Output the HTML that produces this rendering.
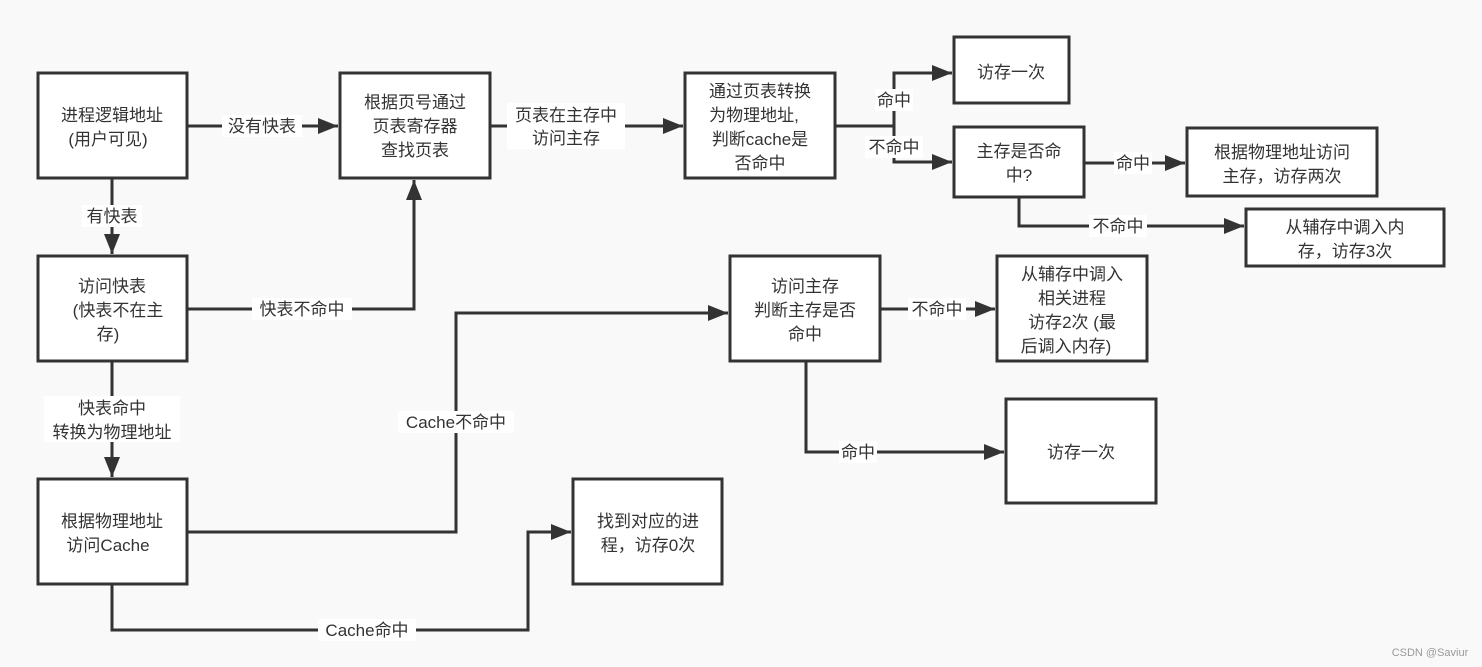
<!DOCTYPE html>
<html><head><meta charset="utf-8"><style>
html,body{margin:0;padding:0;background:#f9f9f9;}
svg{display:block;}
text{font-family:"Liberation Sans","Noto Sans CJK SC",sans-serif;font-size:17px;fill:#333;text-anchor:middle;}
.b{fill:#fff;stroke:#333;stroke-width:3;}
.l{fill:none;stroke:#333;stroke-width:3;}
.lb{fill:#fff;stroke:none;}
</style></head><body>
<svg width="1482" height="667" viewBox="0 0 1482 667">
<defs><marker id="a" markerWidth="10" markerHeight="10" refX="9" refY="5" orient="auto" markerUnits="userSpaceOnUse"><path d="M0,0 L20,5 L0,10z" fill="#333" transform="scale(0.5,1)"/></marker>
<marker id="m" markerWidth="20" markerHeight="16" refX="20" refY="8" orient="auto" markerUnits="userSpaceOnUse"><path d="M0,0 L20,8 L0,16z" fill="#333"/></marker></defs>
<rect width="1482" height="667" fill="#f9f9f9"/>
<!-- connectors -->
<path class="l" d="M187,126 H338" marker-end="url(#m)"/>
<path class="l" d="M490,126 H683" marker-end="url(#m)"/>
<path class="l" d="M835,126 H894 V73 H952" marker-end="url(#m)"/>
<path class="l" d="M894,126 V162 H952" marker-end="url(#m)"/>
<path class="l" d="M1084,163 H1185" marker-end="url(#m)"/>
<path class="l" d="M1019,197 V226 H1244" marker-end="url(#m)"/>
<path class="l" d="M112,178 V254" marker-end="url(#m)"/>
<path class="l" d="M187,309 H414 V180" marker-end="url(#m)"/>
<path class="l" d="M112,361 V477" marker-end="url(#m)"/>
<path class="l" d="M187,532 H456 V313 H728" marker-end="url(#m)"/>
<path class="l" d="M880,309 H995" marker-end="url(#m)"/>
<path class="l" d="M806,361 V452 H1004" marker-end="url(#m)"/>
<path class="l" d="M112,584 V630 H528 V532 H571" marker-end="url(#m)"/>
<!-- labels -->
<rect class="lb" x="222" y="115" width="80" height="22"/><text x="262" y="132">没有快表</text>
<rect class="lb" x="507" y="103" width="118" height="46"/><text x="566" y="121">页表在主存中</text><text x="566" y="144">访问主存</text>
<rect class="lb" x="875" y="89" width="38" height="22"/><text x="894" y="106">命中</text>
<rect class="lb" x="865" y="136" width="58" height="22"/><text x="894" y="153">不命中</text>
<rect class="lb" x="1114" y="152" width="38" height="22"/><text x="1133" y="169">命中</text>
<rect class="lb" x="1089" y="215" width="58" height="22"/><text x="1118" y="232">不命中</text>
<rect class="lb" x="82" y="205" width="60" height="22"/><text x="112" y="222">有快表</text>
<rect class="lb" x="252" y="298" width="100" height="22"/><text x="302" y="315">快表不命中</text>
<rect class="lb" x="44" y="396" width="136" height="46"/><text x="112" y="414">快表命中</text><text x="112" y="438">转换为物理地址</text>
<rect class="lb" x="398" y="411" width="116" height="22"/><text x="456" y="428">Cache不命中</text>
<rect class="lb" x="908" y="298" width="58" height="22"/><text x="937" y="315">不命中</text>
<rect class="lb" x="839" y="441" width="38" height="22"/><text x="858" y="458">命中</text>
<rect class="lb" x="318" y="619" width="98" height="22"/><text x="367" y="636">Cache命中</text>
<!-- boxes -->
<rect class="b" x="38" y="73" width="149" height="105"/><text x="112" y="121">进程逻辑地址</text><text x="108" y="145">(用户可见)</text>
<rect class="b" x="340" y="73" width="150" height="105"/><text x="415" y="108">根据页号通过</text><text x="415" y="132">页表寄存器</text><text x="415" y="156">查找页表</text>
<rect class="b" x="685" y="73" width="150" height="105"/><text x="760" y="97">通过页表转换</text><text x="754" y="121">为物理地址,</text><text x="760" y="145">判断cache是</text><text x="760" y="169">否命中</text>
<rect class="b" x="954" y="37" width="115" height="66"/><text x="1011" y="78">访存一次</text>
<rect class="b" x="954" y="127" width="130" height="70"/><text x="1019" y="157">主存是否命</text><text x="1019" y="181">中?</text>
<rect class="b" x="1187" y="128" width="190" height="68"/><text x="1282" y="158">根据物理地址访问</text><text x="1282" y="182">主存，访存两次</text>
<rect class="b" x="1246" y="209" width="198" height="57"/><text x="1345" y="233">从辅存中调入内</text><text x="1345" y="257">存，访存3次</text>
<rect class="b" x="38" y="256" width="149" height="105"/><text x="112" y="292">访问快表</text><text x="118" y="316">(快表不在主</text><text x="108" y="340">存)</text>
<rect class="b" x="730" y="256" width="150" height="105"/><text x="805" y="292">访问主存</text><text x="805" y="316">判断主存是否</text><text x="805" y="340">命中</text>
<rect class="b" x="997" y="256" width="150" height="105"/><text x="1072" y="280">从辅存中调入</text><text x="1072" y="304">相关进程</text><text x="1072" y="328">访存2次 (最</text><text x="1066" y="352">后调入内存)</text>
<rect class="b" x="1006" y="399" width="150" height="104"/><text x="1081" y="458">访存一次</text>
<rect class="b" x="38" y="479" width="149" height="105"/><text x="112" y="527">根据物理地址</text><text x="108" y="551">访问Cache</text>
<rect class="b" x="573" y="479" width="149" height="105"/><text x="648" y="527">找到对应的进</text><text x="648" y="551">程，访存0次</text>
<text x="1430" y="656" style="font-size:11px;fill:#999">CSDN @Saviur</text>
</svg>
</body></html>
